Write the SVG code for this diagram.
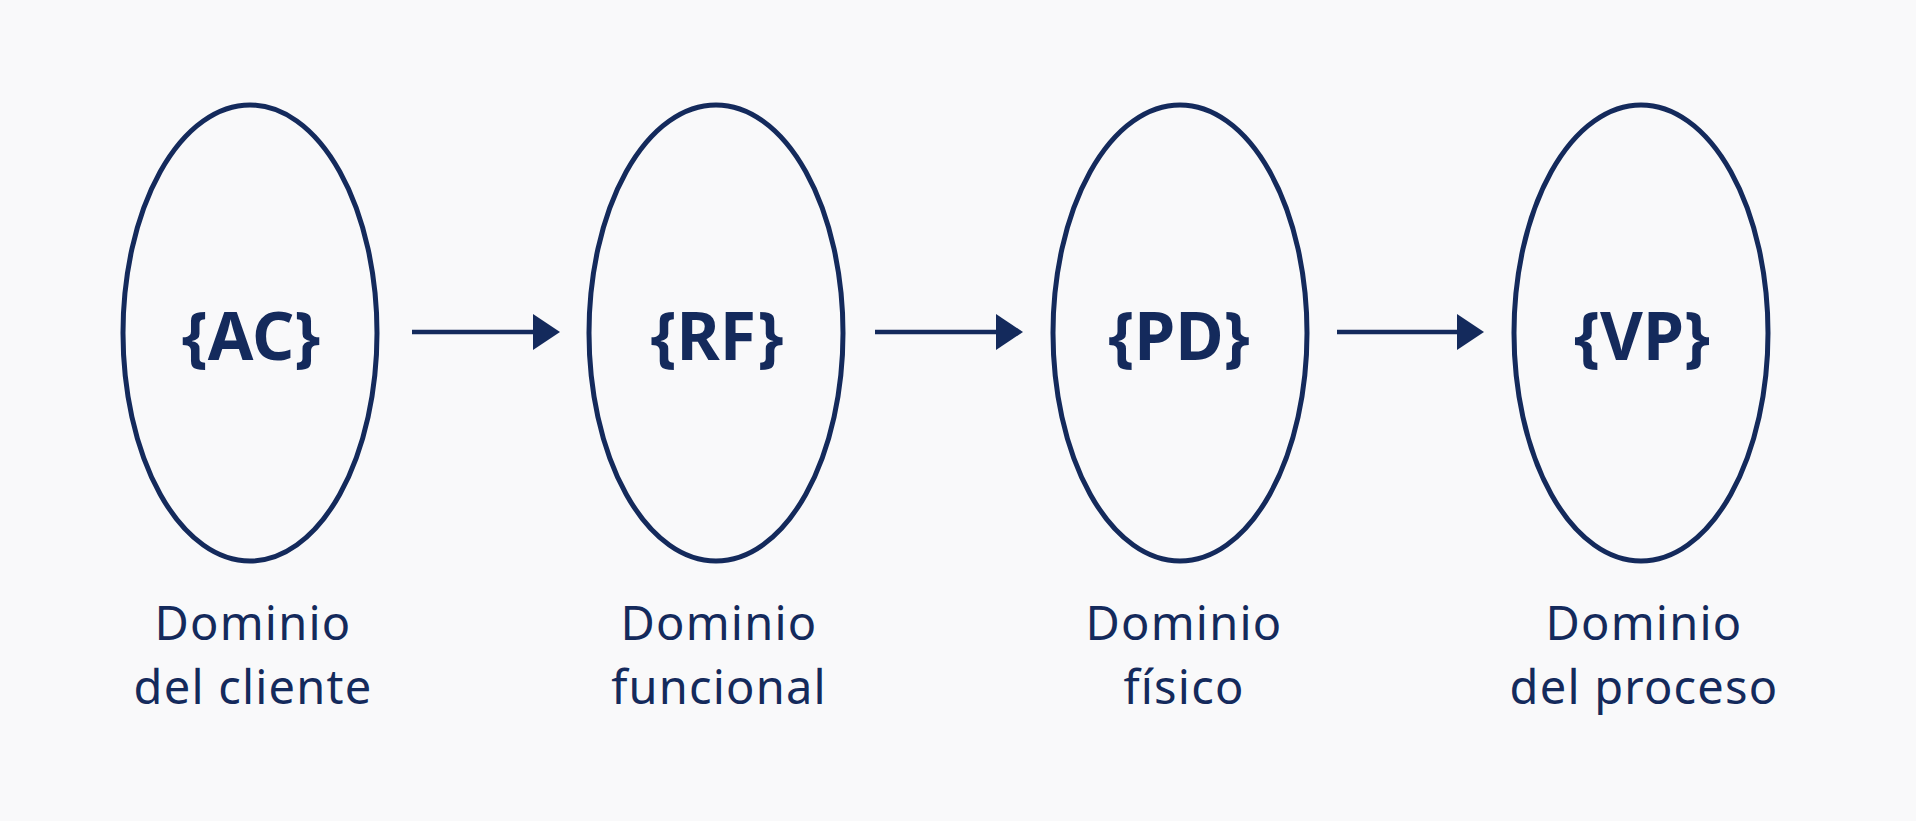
<svg xmlns="http://www.w3.org/2000/svg" width="1916" height="821" viewBox="0 0 1916 821">
<style>
.dom{fill:none;stroke:#142a5c;stroke-width:5}
.code{font-family:"Noto Sans","Open Sans",sans-serif;font-weight:700;font-size:66px;fill:#142a5c;text-anchor:middle}
.lbl{font-family:"Noto Sans","Open Sans",sans-serif;font-size:47px;letter-spacing:1.2px;fill:#142a5c;text-anchor:middle}
.conn{stroke:#142a5c;stroke-width:4.5;fill:none}
.head{fill:#142a5c}
</style>
<rect width="1916" height="821" fill="#f9f9fa"/>
<g id="node-ac">
<ellipse class="dom" cx="250" cy="333" rx="127" ry="228"/>
<text class="code" x="251" y="360">{AC}</text>
<text class="lbl" x="253" y="640">Dominio</text>
<text class="lbl" x="253" y="704">del cliente</text>
</g>
<g id="node-rf">
<ellipse class="dom" cx="716" cy="333" rx="127" ry="228"/>
<text class="code" x="717" y="360">{RF}</text>
<text class="lbl" x="719" y="640">Dominio</text>
<text class="lbl" x="719" y="704">funcional</text>
</g>
<g id="node-pd">
<ellipse class="dom" cx="1180" cy="333" rx="127" ry="228"/>
<text class="code" x="1179" y="360">{PD}</text>
<text class="lbl" x="1184" y="640">Dominio</text>
<text class="lbl" x="1184" y="704">físico</text>
</g>
<g id="node-vp">
<ellipse class="dom" cx="1641" cy="333" rx="127" ry="228"/>
<text class="code" x="1642" y="360">{VP}</text>
<text class="lbl" x="1644" y="640">Dominio</text>
<text class="lbl" x="1644" y="704">del proceso</text>
</g>
<g id="connectors">
<line class="conn" x1="412" y1="332" x2="536" y2="332"/>
<polygon class="head" points="533,314 560,332 533,350"/>
<line class="conn" x1="875" y1="332" x2="999" y2="332"/>
<polygon class="head" points="996,314 1023,332 996,350"/>
<line class="conn" x1="1337" y1="332" x2="1460" y2="332"/>
<polygon class="head" points="1457,314 1484,332 1457,350"/>
</g>
</svg>
